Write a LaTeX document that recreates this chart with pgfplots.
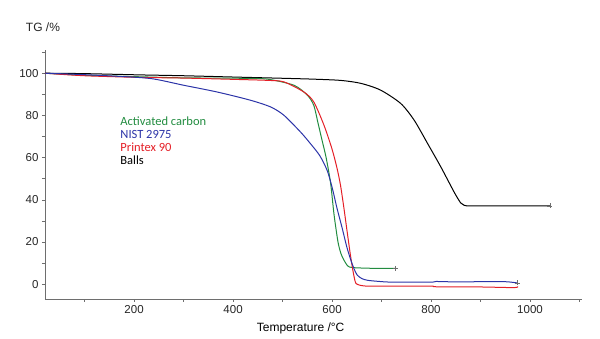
\documentclass[border=0pt]{standalone}
\usepackage{pgfplots}
\pgfplotsset{compat=1.18}
\usepackage{fontspec}
\setmainfont{Liberation Sans}
\newfontfamily\legfont{Carlito}
\definecolor{cgreen}{RGB}{34,140,64}
\definecolor{cblue}{RGB}{44,52,168}
\definecolor{cred}{RGB}{228,30,38}
\definecolor{axgray}{RGB}{110,110,110}
\begin{document}
\begin{tikzpicture}
\begin{axis}[
  name=ax,
  scale only axis,
  width=537pt, height=249pt,
  xmin=20, xmax=1105, ymin=-7, ymax=111,
  axis lines=left,
  axis line style={-, axgray, line width=0.8pt},
  xtick={200,400,600,800,1000},
  minor xtick={100,300,500,700,900,1100},
  ytick={0,20,40,60,80,100},
  minor ytick={10,30,50,70,90,110},
  tick align=outside,
  major tick length=3pt, minor tick length=3pt,
  tick style={axgray, line width=0.6pt},
  ticklabel style={font=\fontsize{11.5}{13}\selectfont, text=black!85},
  /pgf/number format/assume math mode=true,
  /pgf/number format/1000 sep={},
  xlabel={Temperature /°C},
  xlabel style={font=\fontsize{12}{14}\selectfont, at={(axis description cs:0.476,0)}, anchor=north, yshift=-20pt},
  clip=false,
  every axis plot/.append style={smooth, tension=0.45, line width=1pt},
]
% Balls
\addplot[black] coordinates {
(20,100) (100,99.8) (212,99.2) (300,98.8) (415,98.1) (500,97.6) (560,97.2) (617,96.6)
(658,95.2) (698,92.0) (739,85.6) (766,77.7) (793,66.7) (820,55.5) (847,43.5) (860,38.5)
(867,37.4) (880,37.1) (950,37.1) (1040,37.1)};
% Activated carbon
\addplot[cgreen] coordinates {
(20,100) (100,99) (213,98.3) (300,97.8) (415,97.6) (469,97.2) (523,94.3) (550,89.6)
(563,84.8) (572,76) (580,68) (588,60) (597,48) (604,33) (612,20) (618,14.5)
(624,11.4) (632,8.6) (641,7.9) (670,7.6) (700,7.5) (728,7.5)};
% Printex 90
\addplot[cred] coordinates {
(20,100) (100,98.8) (213,98) (300,97.7) (415,97) (470,96.6) (502.6,95.9) (543,91.1)
(563,86.4) (583.6,75.4) (600,64) (610,55) (617,47) (624,36) (631,24) (637,14)
(641,8) (645,3) (648,0.5) (655,-0.4) (671,-0.9) (720,-0.9) (800,-0.9) (810,-1.2)
(900,-1.3) (968,-1.6) (975,-1.0)};
% NIST 2975
\addplot[cblue] coordinates {
(20,100) (80,99.5) (145,98.8) (232.7,97.5) (300,94.3) (367.7,91.1) (435,87.2) (476,84)
(502.6,80.1) (536,72.2) (555,67) (575,61) (590,54) (600,46) (610,36) (620,27)
(630,17.5) (638,11.4) (645,7) (651,4.3) (660,2.7) (671,1.9) (691,1.4) (720,1.0)
(800,1.0) (810,1.3) (850,1.1) (900,1.2) (950,1.2) (975,0.6)};
% end markers
\addplot[only marks, mark=+, mark size=2.5pt, axgray, line width=0.6pt] coordinates {(1040,37.1) (728,7.5) (975,0.6)};
\node[anchor=west, text=cgreen, font=\legfont\fontsize{12.5}{14}\selectfont, inner sep=0pt] at (axis cs:172,77.3) {Activated carbon};
\node[anchor=west, text=cblue, font=\legfont\fontsize{12.5}{14}\selectfont, inner sep=0pt] at (axis cs:172,71.1) {NIST 2975};
\node[anchor=west, text=cred, font=\legfont\fontsize{12.5}{14}\selectfont, inner sep=0pt] at (axis cs:172,64.9) {Printex 90};
\node[anchor=west, text=black, font=\legfont\fontsize{12.5}{14}\selectfont, inner sep=0pt] at (axis cs:172,58.8) {Balls};
\end{axis}
\node[anchor=center, font=\fontsize{12}{14}\selectfont, text=black!85] at ([shift={(-2pt,23pt)}]ax.north west) {TG /\%};
\pgfresetboundingbox
\path[use as bounding box] ([shift={(-45pt,-40pt)}]ax.south west) rectangle ([shift={(18pt,50pt)}]ax.north east);
\end{tikzpicture}
\end{document}
